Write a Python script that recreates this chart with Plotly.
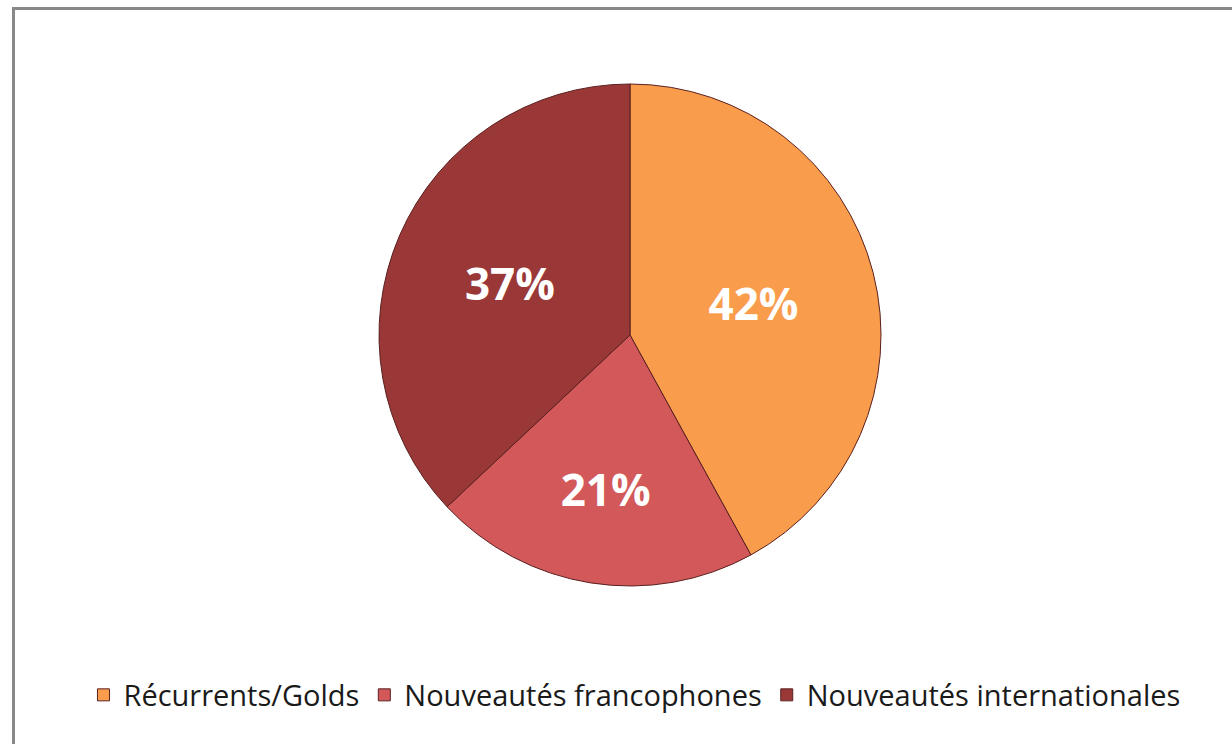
import plotly.graph_objects as go

categories = ["Récurrents/Golds", "Nouveautés francophones", "Nouveautés internationales"]
values = [42, 21, 37]
colors = ["#F99D4C", "#D2585A", "#9A3837"]

W, H = 1232, 744
cx, cy, r = 630, 335, 251

fig = go.Figure(go.Pie(
    labels=categories,
    values=values,
    sort=False,
    direction="clockwise",
    rotation=0,
    marker=dict(colors=colors, line=dict(color="#5a2020", width=1)),
    textinfo="percent",
    texttemplate="%{percent:.0%}",
    textposition="inside",
    insidetextorientation="horizontal",
    textfont=dict(family="Open Sans", size=44, color="white", weight="bold"),
    domain=dict(x=[(cx - r) / W, (cx + r) / W], y=[(H - cy - r) / H, (H - cy + r) / H]),
    hoverinfo="label+percent",
))

fig.update_layout(
    width=W, height=H,
    margin=dict(l=0, r=0, t=0, b=0),
    paper_bgcolor="white",
    plot_bgcolor="white",
    showlegend=True,
    legend=dict(
        orientation="h",
        x=0.515, xanchor="center",
        y=(H - 695) / H, yanchor="middle",
        font=dict(family="Open Sans", size=29, color="#1a1a1a"),
        itemwidth=30,
        tracegroupgap=0,
    ),
    shapes=[dict(
        type="rect", xref="paper", yref="paper",
        x0=13.5 / W, x1=1.02, y0=-0.02, y1=1 - 8.5 / H,
        line=dict(color="#888888", width=3), fillcolor="rgba(0,0,0,0)", layer="below",
    )],
)

fig.write_html("out.html", config={"displayModeBar": False},
               post_script="document.body.style.margin='0';document.body.style.padding='0';")
